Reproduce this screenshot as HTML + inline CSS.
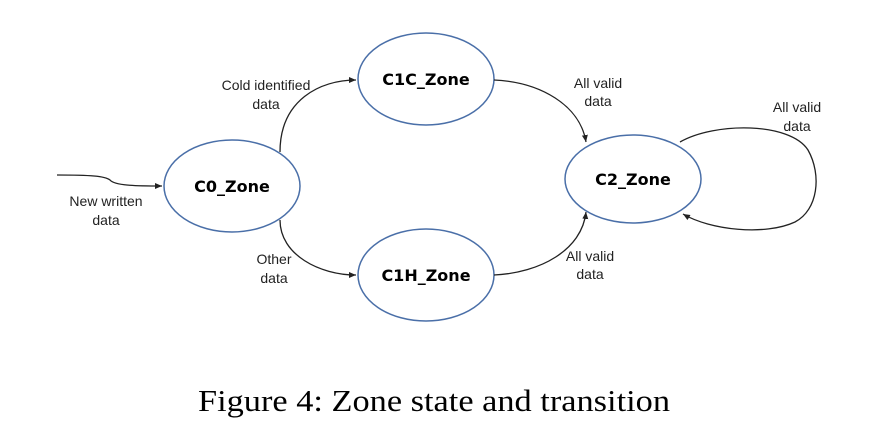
<!DOCTYPE html>
<html><head><meta charset="utf-8"><style>
html,body{margin:0;padding:0;background:#fff;}
svg{display:block;}
.l{font-family:"Liberation Sans",sans-serif;font-size:14px;fill:#222;text-anchor:middle;}
.z{font-family:"DejaVu Sans","Liberation Sans",sans-serif;font-size:16px;font-weight:bold;fill:#000;text-anchor:middle;}
</style></head><body>
<svg width="869" height="434" viewBox="0 0 869 434" xmlns="http://www.w3.org/2000/svg">
<defs><marker id="a" markerWidth="8" markerHeight="8" refX="7" refY="4" orient="auto" markerUnits="userSpaceOnUse"><path d="M0,1 L7,4 L0,7 z" fill="#222"/></marker></defs>
<g fill="none" stroke="#4a6fa8" stroke-width="1.5">
<ellipse cx="232" cy="186" rx="68" ry="46"/>
<ellipse cx="426" cy="79" rx="68" ry="46"/>
<ellipse cx="426" cy="275" rx="68" ry="46"/>
<ellipse cx="633" cy="179" rx="68" ry="44"/>
</g>
<g fill="none" stroke="#222" stroke-width="1.3" marker-end="url(#a)">
<path d="M57,175 C90,175 105,176 110,180 C115,186 140,186 162,186"/>
<path d="M280,152 C280,100 320,80 356,80"/>
<path d="M280,220 C280,255 320,275 356,275"/>
<path d="M494,80 C540,82 580,105 586,142"/>
<path d="M494,275 C540,273 582,250 586,212"/>
<path d="M680,142 C715,122 790,122 808,150 C822,175 818,210 795,222 C765,236 710,230 683,214"/>
</g>
<text class="z" x="232" y="192">C0_Zone</text>
<text class="z" x="426" y="85">C1C_Zone</text>
<text class="z" x="426" y="281">C1H_Zone</text>
<text class="z" x="633" y="185">C2_Zone</text>
<text class="l" x="266" y="90">Cold identified</text>
<text class="l" x="266" y="109">data</text>
<text class="l" x="106" y="206">New written</text>
<text class="l" x="106" y="225">data</text>
<text class="l" x="274" y="264">Other</text>
<text class="l" x="274" y="283">data</text>
<text class="l" x="598" y="88">All valid</text>
<text class="l" x="598" y="106">data</text>
<text class="l" x="797" y="112">All valid</text>
<text class="l" x="797" y="131">data</text>
<text class="l" x="590" y="261">All valid</text>
<text class="l" x="590" y="279">data</text>
<text x="198" y="411" font-family="Liberation Serif,serif" font-size="31" fill="#000" textLength="472" lengthAdjust="spacingAndGlyphs">Figure 4: Zone state and transition</text>
</svg>
</body></html>
